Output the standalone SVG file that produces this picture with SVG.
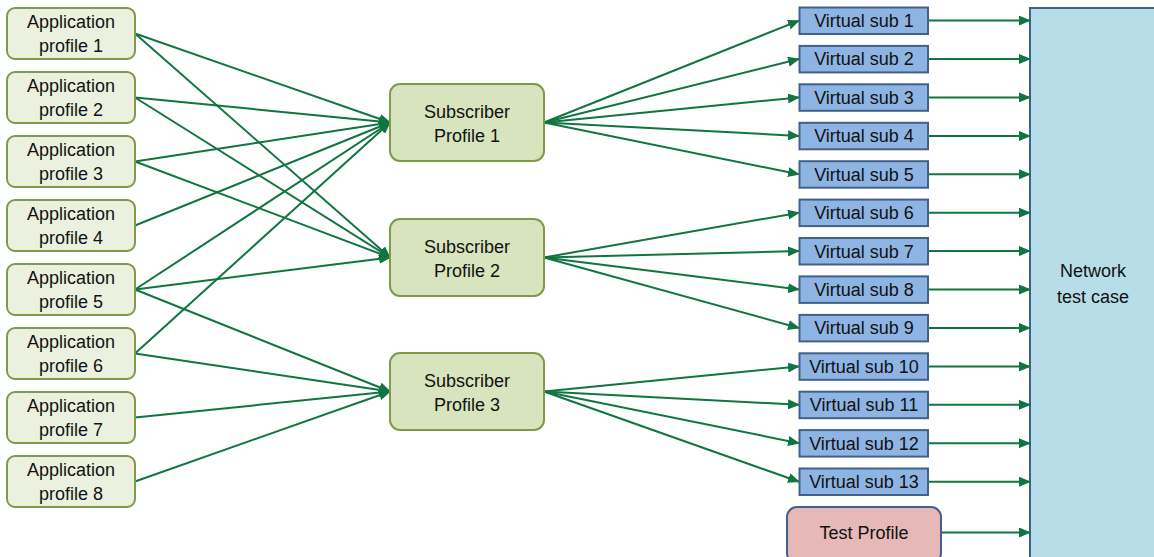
<svg xmlns="http://www.w3.org/2000/svg" width="1154" height="557" viewBox="0 0 1154 557">
<style>
text{font-family:"Liberation Sans",Arial,sans-serif;font-size:18px;fill:#111;text-anchor:middle}
.app{fill:#ebf1de;stroke:#7f9a48;stroke-width:2}
.sp{fill:#d7e4bd;stroke:#7f9a48;stroke-width:2}
.vs{fill:#8eb4e3;stroke:#41618c;stroke-width:2}
.net{fill:#b7dde8;stroke:#41618c;stroke-width:2}
.tp{fill:#e6b9b8;stroke:#41618c;stroke-width:2}
.c line{stroke:#107540;stroke-width:2;marker-end:url(#ah)}
</style>
<defs>
<marker id="ah" markerUnits="userSpaceOnUse" markerWidth="12" markerHeight="10" refX="11" refY="5" orient="auto">
<path d="M0,0 L12,5 L0,10 Z" fill="#107540"/>
</marker>
</defs>
<g id="network"><rect class="net" x="1030" y="8" width="130" height="560"/><text x="1093" y="277">Network</text><text x="1093" y="303">test case</text></g>
<g class="c" id="connectors">
<line x1="135" y1="33.5" x2="390" y2="122.5"/>
<line x1="135" y1="33.5" x2="390" y2="257.5"/>
<line x1="135" y1="97.5" x2="390" y2="122.5"/>
<line x1="135" y1="97.5" x2="390" y2="257.5"/>
<line x1="135" y1="161.5" x2="390" y2="122.5"/>
<line x1="135" y1="161.5" x2="390" y2="257.5"/>
<line x1="135" y1="225.5" x2="390" y2="122.5"/>
<line x1="135" y1="289.5" x2="390" y2="122.5"/>
<line x1="135" y1="289.5" x2="390" y2="257.5"/>
<line x1="135" y1="289.5" x2="390" y2="391.5"/>
<line x1="135" y1="353.5" x2="390" y2="122.5"/>
<line x1="135" y1="353.5" x2="390" y2="391.5"/>
<line x1="135" y1="417.5" x2="390" y2="391.5"/>
<line x1="135" y1="481.5" x2="390" y2="391.5"/>
<line x1="544" y1="122.5" x2="799" y2="20.6"/>
<line x1="544" y1="122.5" x2="799" y2="59"/>
<line x1="544" y1="122.5" x2="799" y2="97.4"/>
<line x1="544" y1="122.5" x2="799" y2="135.9"/>
<line x1="544" y1="122.5" x2="799" y2="174.3"/>
<line x1="544" y1="257.5" x2="799" y2="212.7"/>
<line x1="544" y1="257.5" x2="799" y2="251.1"/>
<line x1="544" y1="257.5" x2="799" y2="289.5"/>
<line x1="544" y1="257.5" x2="799" y2="328"/>
<line x1="544" y1="391.5" x2="799" y2="366.4"/>
<line x1="544" y1="391.5" x2="799" y2="404.8"/>
<line x1="544" y1="391.5" x2="799" y2="443.2"/>
<line x1="544" y1="391.5" x2="799" y2="481.7"/>
<line x1="928" y1="20.6" x2="1030" y2="20.6"/>
<line x1="928" y1="59" x2="1030" y2="59"/>
<line x1="928" y1="97.4" x2="1030" y2="97.4"/>
<line x1="928" y1="135.9" x2="1030" y2="135.9"/>
<line x1="928" y1="174.3" x2="1030" y2="174.3"/>
<line x1="928" y1="212.7" x2="1030" y2="212.7"/>
<line x1="928" y1="251.1" x2="1030" y2="251.1"/>
<line x1="928" y1="289.5" x2="1030" y2="289.5"/>
<line x1="928" y1="328" x2="1030" y2="328"/>
<line x1="928" y1="366.4" x2="1030" y2="366.4"/>
<line x1="928" y1="404.8" x2="1030" y2="404.8"/>
<line x1="928" y1="443.2" x2="1030" y2="443.2"/>
<line x1="928" y1="481.7" x2="1030" y2="481.7"/>
<line x1="941" y1="532.5" x2="1030" y2="532.5"/>
</g>
<g id="app1"><rect class="app" x="7" y="8" width="128" height="51" rx="8"/><text x="71" y="28">Application</text><text x="71" y="52">profile 1</text></g>
<g id="app2"><rect class="app" x="7" y="72" width="128" height="51" rx="8"/><text x="71" y="92">Application</text><text x="71" y="116">profile 2</text></g>
<g id="app3"><rect class="app" x="7" y="136" width="128" height="51" rx="8"/><text x="71" y="156">Application</text><text x="71" y="180">profile 3</text></g>
<g id="app4"><rect class="app" x="7" y="200" width="128" height="51" rx="8"/><text x="71" y="220">Application</text><text x="71" y="244">profile 4</text></g>
<g id="app5"><rect class="app" x="7" y="264" width="128" height="51" rx="8"/><text x="71" y="284">Application</text><text x="71" y="308">profile 5</text></g>
<g id="app6"><rect class="app" x="7" y="328" width="128" height="51" rx="8"/><text x="71" y="348">Application</text><text x="71" y="372">profile 6</text></g>
<g id="app7"><rect class="app" x="7" y="392" width="128" height="51" rx="8"/><text x="71" y="412">Application</text><text x="71" y="436">profile 7</text></g>
<g id="app8"><rect class="app" x="7" y="456" width="128" height="51" rx="8"/><text x="71" y="476">Application</text><text x="71" y="500">profile 8</text></g>
<g id="sp1"><rect class="sp" x="390" y="84" width="154" height="77" rx="10"/><text x="467" y="118">Subscriber</text><text x="467" y="142">Profile 1</text></g>
<g id="sp2"><rect class="sp" x="390" y="219" width="154" height="77" rx="10"/><text x="467" y="253">Subscriber</text><text x="467" y="277">Profile 2</text></g>
<g id="sp3"><rect class="sp" x="390" y="353" width="154" height="77" rx="10"/><text x="467" y="387">Subscriber</text><text x="467" y="411">Profile 3</text></g>
<g id="vs1"><rect class="vs" x="799.5" y="7.5" width="128.5" height="26.5"/><text x="864" y="27">Virtual sub 1</text></g>
<g id="vs2"><rect class="vs" x="799.5" y="45.9" width="128.5" height="26.5"/><text x="864" y="65.4">Virtual sub 2</text></g>
<g id="vs3"><rect class="vs" x="799.5" y="84.3" width="128.5" height="26.5"/><text x="864" y="103.8">Virtual sub 3</text></g>
<g id="vs4"><rect class="vs" x="799.5" y="122.8" width="128.5" height="26.5"/><text x="864" y="142.3">Virtual sub 4</text></g>
<g id="vs5"><rect class="vs" x="799.5" y="161.2" width="128.5" height="26.5"/><text x="864" y="180.7">Virtual sub 5</text></g>
<g id="vs6"><rect class="vs" x="799.5" y="199.6" width="128.5" height="26.5"/><text x="864" y="219.1">Virtual sub 6</text></g>
<g id="vs7"><rect class="vs" x="799.5" y="238" width="128.5" height="26.5"/><text x="864" y="257.5">Virtual sub 7</text></g>
<g id="vs8"><rect class="vs" x="799.5" y="276.4" width="128.5" height="26.5"/><text x="864" y="295.9">Virtual sub 8</text></g>
<g id="vs9"><rect class="vs" x="799.5" y="314.9" width="128.5" height="26.5"/><text x="864" y="334.4">Virtual sub 9</text></g>
<g id="vs10"><rect class="vs" x="799.5" y="353.3" width="128.5" height="26.5"/><text x="864" y="372.8">Virtual sub 10</text></g>
<g id="vs11"><rect class="vs" x="799.5" y="391.7" width="128.5" height="26.5"/><text x="864" y="411.2">Virtual sub 11</text></g>
<g id="vs12"><rect class="vs" x="799.5" y="430.1" width="128.5" height="26.5"/><text x="864" y="449.6">Virtual sub 12</text></g>
<g id="vs13"><rect class="vs" x="799.5" y="468.5" width="128.5" height="26.5"/><text x="864" y="488">Virtual sub 13</text></g>
<g id="testprofile"><rect class="tp" x="787" y="507" width="154" height="56" rx="10"/><text x="864" y="539">Test Profile</text></g>
</svg>
